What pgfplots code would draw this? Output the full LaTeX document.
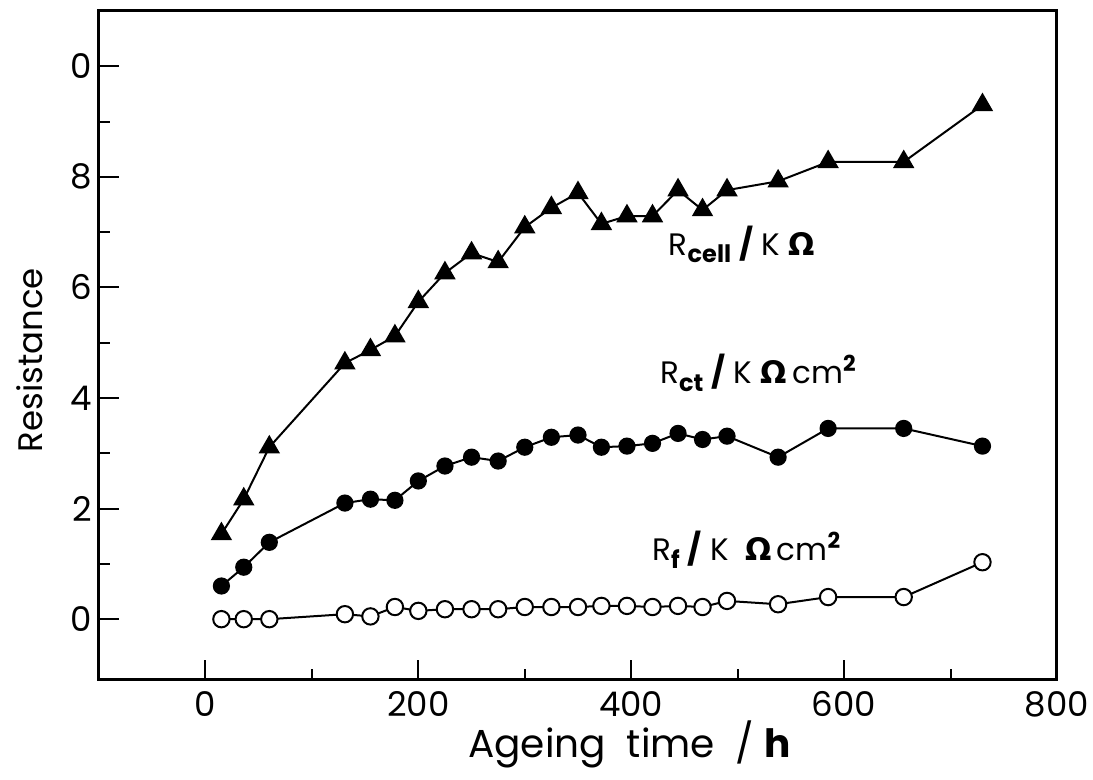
\documentclass[border=0pt]{standalone}
\usepackage{fontspec}
\setmainfont{Poppins}
\newfontfamily\omegafont{DejaVu Sans}
\usepackage{pgfplots}
\usepackage{pgfplotstable}
\pgfplotsset{compat=1.18}

\pgfplotstableread{
t cell ct f
15 1.54 0.60 0.00
36 2.17 0.94 0.00
60 3.11 1.39 0.00
131 4.63 2.10 0.09
155 4.87 2.17 0.05
178 5.12 2.15 0.22
200 5.74 2.50 0.15
225 6.26 2.77 0.18
250 6.62 2.93 0.18
275 6.46 2.86 0.18
300 7.09 3.11 0.22
325 7.44 3.29 0.22
350 7.71 3.33 0.22
372 7.15 3.11 0.24
396 7.29 3.13 0.24
420 7.29 3.18 0.22
444 7.76 3.36 0.24
467 7.40 3.25 0.22
490 7.76 3.31 0.33
538 7.92 2.93 0.27
585 8.27 3.45 0.40
656 8.27 3.45 0.40
730 9.30 3.13 1.03
}\data

\newcommand{\sub}[1]{\raisebox{-0.45ex}{\fontsize{12}{14}\selectfont\bfseries #1}}
\newcommand{\sq}{\raisebox{0.75ex}{\fontsize{11}{13}\selectfont\bfseries 2}}

\begin{document}
\begin{tikzpicture}
\useasboundingbox (-49.5pt,-50pt) rectangle (497pt,340pt);
\begin{axis}[
  scale only axis, width=479pt, height=334.5pt,
  xmin=-100, xmax=800, ymin=-1.1, ymax=11,
  xtick={0,200,400,600,800}, minor xtick={100,300,500,700},
  ytick={0,2,4,6,8,10}, yticklabels={0,2,4,6,8,0}, minor ytick={1,3,5,7,9},
  tick align=inside, xtick pos=bottom, ytick pos=left,
  major tick length=10pt, minor tick length=5.5pt,
  every tick/.style={black, line width=1pt},
  axis line style={line width=1.5pt},
  /pgf/number format/assume math mode=true,
  tick label style={font=\fontsize{17}{20}\selectfont},
  xticklabel style={yshift=-2pt},
  xlabel={Ageing\ \ time\ \ /\ \textbf{h}}, ylabel={Resistance},
  xlabel style={font=\fontsize{19.5}{22}\selectfont, at={(axis description cs:0.554,0)}, anchor=center, yshift=-32pt},
  ylabel style={font=\fontsize{17}{20}\selectfont, at={(axis description cs:-0.072,0.478)}, anchor=center},
  clip=false,
]
\addplot[black, line width=1pt, mark=triangle*, mark size=5.2pt, mark options={solid, fill=black}] table[x=t, y=cell] {\data};
\addplot[black, line width=1pt, mark=*, mark size=3.8pt, mark options={solid, fill=black}] table[x=t, y=ct] {\data};
\addplot[black, line width=1pt, mark=*, mark size=4.1pt, mark options={solid, fill=white, line width=1pt}] table[x=t, y=f] {\data};
\node[font=\fontsize{15.5}{18}\selectfont] at (axis cs:504,6.78) {R\sub{cell}\ \textbf{/}\ K\ {\omegafont\bfseries Ω}};
\node[font=\fontsize{15.5}{18}\selectfont] at (axis cs:519,4.45) {R\sub{ct}\ \textbf{/}\ K\ {\omegafont\bfseries Ω}\,cm\sq};
\node[font=\fontsize{15.5}{18}\selectfont] at (axis cs:508,1.25) {R\sub{f}\ \textbf{/}\ K\ \ {\omegafont\bfseries Ω}\,cm\sq};
\end{axis}
\end{tikzpicture}
\end{document}
